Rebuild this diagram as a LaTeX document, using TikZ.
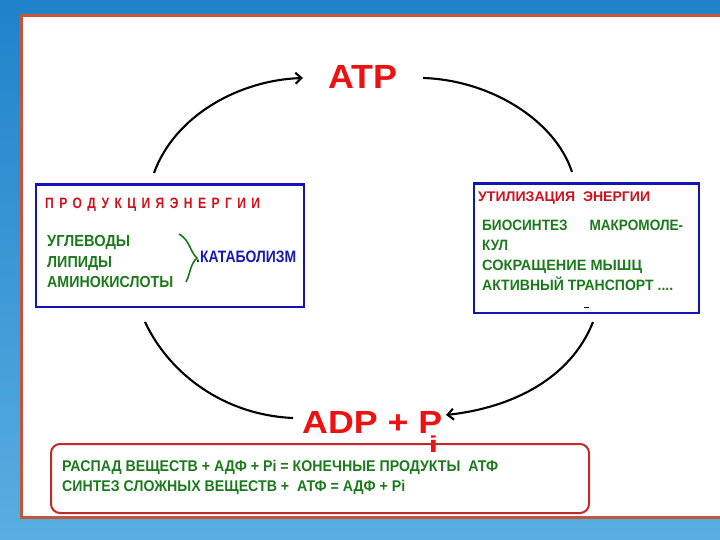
\documentclass[tikz,border=0pt]{standalone}
\usepackage{graphicx}
\usepackage{fontspec}
\setmainfont{Liberation Sans}
\usetikzlibrary{arrows.meta}
\definecolor{bgtop}{HTML}{1F82CA}
\definecolor{bgbot}{HTML}{58AEE0}
\definecolor{panelline}{HTML}{C4553C}
\definecolor{atpred}{HTML}{EE1111}
\definecolor{titred}{HTML}{D0101C}
\definecolor{txtgreen}{HTML}{1C7A1C}
\definecolor{boxblue}{HTML}{1414B4}
\definecolor{katblue}{HTML}{1818B8}
\definecolor{boxred}{HTML}{C22A2A}
\newsavebox\fitbox
\newlength\fitlen
\newcommand\fitw[2]{\sbox\fitbox{#2}\fitlen=\wd\fitbox\pgfmathsetmacro\fitfac{#1/\fitlen}\scalebox{\fitfac}[1]{\usebox\fitbox}}
\newcommand\fsz[1]{\fontsize{#1}{#1}\selectfont\bfseries}
\tikzset{
  txt/.style={inner sep=0pt, anchor=base west},
  greentxt/.style={txt, text=txtgreen, font=\fsz{16}},
  rgreentxt/.style={txt, text=txtgreen, font=\fsz{15}},
  bluebox/.style={draw=boxblue, line width=2.8pt, inner sep=0pt, anchor=north west},
  cyc/.style={line width=2.1pt, black},
  cyctip/.style={cyc, -{Straight Barb[length=6pt,width=11pt]}}
}
\begin{document}
\begin{tikzpicture}[x=1pt,y=-1pt]
\useasboundingbox (0,0) rectangle (720,540);
% background
\fill[top color=bgtop, bottom color=bgbot] (0,0) rectangle (720,540);
\filldraw[fill=white, draw=panelline, line width=3pt] (21,16) rectangle (740,517);

% main labels
\node[inner sep=0pt, anchor=base, text=atpred, font=\fsz{33.5}] (atp) at (362.5,89) {\fitw{69}{ATP}};
\node[txt, text=atpred, font=\fsz{32}] (adp) at (302,433) {\fitw{140}{ADP + P}};
\node[inner sep=0pt, anchor=base, text=atpred, font=\fsz{23}] (sub) at (433.5,452) {\scalebox{1.5}[1]{i}};

% left box
\node[bluebox, minimum width=268pt, minimum height=122.5pt] (lbox) at (34.5,183) {};
\node[txt, text=titred, font=\fsz{15}] (ltitle) at (45,208) {\fitw{215}{\addfontfeature{LetterSpace=45}ПРОДУКЦИЯЭНЕРГИИ}};
\node[greentxt] (l1) at (47,247) {\fitw{83}{УГЛЕВОДЫ}};
\node[greentxt] (l2) at (47,267) {\fitw{65}{ЛИПИДЫ}};
\node[greentxt] (l3) at (47,287) {\fitw{126}{АМИНОКИСЛОТЫ}};
\draw[txtgreen, line width=1.6pt] (179,234) .. controls (190,240) and (190,252) .. (197,258)
  .. controls (190,264) and (190,275) .. (186,282);
\node[txt, text=katblue, font=\fsz{16.5}] (kat) at (196,262) {\fitw{100}{.КАТАБОЛИЗМ}};

% right box
\node[bluebox, minimum width=225pt, minimum height=129pt] (rbox) at (472.5,182.5) {};
\node[txt, text=titred, font=\fsz{14}] (rtitle) at (478,202) {\fitw{172}{УТИЛИЗАЦИЯ\ \ ЭНЕРГИИ}};
\node[rgreentxt] (r1) at (482,230) {\fitw{201}{БИОСИНТЕЗ\hspace{1.6em}МАКРОМОЛЕ-}};
\node[rgreentxt] (r2) at (482,250) {\fitw{26}{КУЛ}};
\node[rgreentxt] (r3) at (482,270) {\fitw{160}{СОКРАЩЕНИЕ МЫШЦ}};
\node[rgreentxt] (r4) at (482,290) {\fitw{191}{АКТИВНЫЙ ТРАНСПОРТ ....}};
\draw[black, line width=0.8pt] (584,307) -- (589,307);

% bottom box
\node[draw=boxred, line width=2pt, rounded corners=9pt, inner sep=0pt, anchor=north west,
  minimum width=538pt, minimum height=69pt] (bbox) at (50,443) {};
\node[txt, text=txtgreen, font=\fsz{15.5}] (b1) at (62,471) {\fitw{436}{РАСПАД ВЕЩЕСТВ + АДФ + Pi = КОНЕЧНЫЕ ПРОДУКТЫ\ \ АТФ}};
\node[txt, text=txtgreen, font=\fsz{15.5}] (b2) at (62,491) {\fitw{343}{СИНТЕЗ СЛОЖНЫХ ВЕЩЕСТВ +\ \ АТФ = АДФ + Pi}};

% cycle arcs
\coordinate (tlA) at (154,173);
\coordinate (tlB) at (303,78);
\coordinate (trA) at (423,78);
\coordinate (trB) at (572,172);
\coordinate (blA) at (145,322);
\coordinate (blB) at (293,418);
\coordinate (brA) at (593,322);
\coordinate (brB) at (446,415);
\draw[cyctip] (tlA) .. controls (175,115) and (240,80) .. (tlB);
\draw[cyc] (trA) .. controls (490,80) and (555,120) .. (trB);
\draw[cyc] (blA) .. controls (170,375) and (225,415) .. (blB);
\draw[cyctip] (brA) .. controls (570,380) and (510,408) .. (brB);
\end{tikzpicture}
\end{document}
